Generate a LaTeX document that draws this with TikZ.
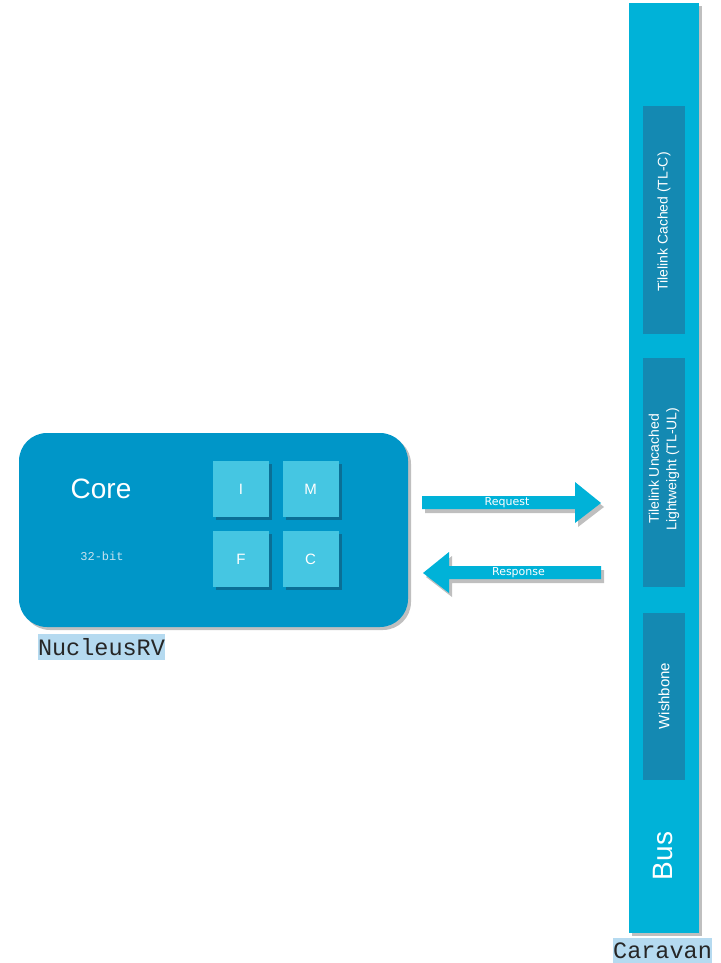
\documentclass[tikz,border=0pt]{standalone}
\usepackage{fontspec}
\setmainfont{Liberation Sans}
\setsansfont{Liberation Sans}
\setmonofont{Liberation Mono}
\newfontfamily\arrowfont{DejaVu Sans}
\usetikzlibrary{positioning,calc}
\definecolor{corebg}{HTML}{0096C8}
\definecolor{unitbg}{HTML}{45C6E2}
\definecolor{unitsh}{HTML}{0A6F96}
\definecolor{busbg}{HTML}{00B2D8}
\definecolor{protobg}{HTML}{1489B2}
\definecolor{shadowgray}{HTML}{BFBFBF}
\definecolor{tagbg}{HTML}{B5DAF0}
\definecolor{bitstext}{HTML}{C8E2EE}
\tikzset{
  x=1pt, y=-1pt,
  unitbox/.style={fill=unitbg, draw=none, minimum width=56pt, minimum height=56pt,
    inner sep=0pt, text=white, font=\fontsize{15}{17}\selectfont},
  protobox/.style={fill=protobg, draw=none, inner sep=0pt},
  protolabel/.style={rotate=90, text=white, font=\fontsize{14}{17.5}\selectfont, align=center},
  tag/.style={fill=tagbg, inner sep=0pt, minimum height=26pt,
    font=\ttfamily\fontsize{23.5}{25}\selectfont, text=black!85},
  arrowlabel/.style={text=white, font=\arrowfont\fontsize{11}{13}\selectfont},
}
\begin{document}
\begin{tikzpicture}
\useasboundingbox (0,0) rectangle (720,963);

% ---- Bus column ----
\fill[shadowgray] (632,6) rectangle (702,936);
\fill[busbg] (629,3) rectangle (699,933);
\node[protobox, minimum width=42pt, minimum height=228pt] (tlc) at (664,220) {};
\node[protolabel] at (664,222) {Tilelink Cached (TL-C)};
\node[protobox, minimum width=42pt, minimum height=229pt] (tlul) at (664,472.5) {};
\node[protolabel] at (664,469) {Tilelink Uncached\\Lightweight (TL-UL)};
\node[protobox, minimum width=42pt, minimum height=167pt] (wb) at (664,696.5) {};
\node[protolabel, font=\fontsize{15}{17}\selectfont] at (664,696) {Wishbone};
\node[rotate=90, text=white, font=\fontsize{28}{30}\selectfont] (bus) at (663,856) {Bus};
\node[tag] (caravan) at (662.5,950.5) {Caravan};

% ---- Core block ----
\fill[shadowgray, rounded corners=28pt] (22,436) rectangle (411,630);
\fill[corebg, rounded corners=28pt] (19,433) rectangle (408,627);
\node[text=white, font=\fontsize{28}{30}\selectfont] (core) at (101,489) {Core};
\node[text=bitstext, font=\ttfamily\fontsize{12}{14}\selectfont] (bits) at (102,556) {32-bit};
\foreach \n/\t/\cx/\cy in {i/I/241/489, m/M/310.5/489, f/F/241/559, c/C/310.5/559}{
  \fill[unitsh] (\cx-28+3,\cy-28+3) rectangle (\cx+28+3,\cy+28+3);
  \node[unitbox] (\n) at (\cx,\cy) {\t};
}
\node[tag] (nucleus) at (101.5,647) {NucleusRV};

% ---- Request / Response arrows ----
\begin{scope}[shift={(3,4)}]
  \fill[shadowgray] (422,496) -- (575,496) -- (575,482) -- (601,503) -- (575,523) -- (575,509) -- (422,509) -- cycle;
  \fill[shadowgray] (601,566) -- (449,566) -- (449,552) -- (423,573) -- (449,593) -- (449,579) -- (601,579) -- cycle;
\end{scope}
\fill[busbg] (422,496) -- (575,496) -- (575,482) -- (601,503) -- (575,523) -- (575,509) -- (422,509) -- cycle;
\fill[busbg] (601,566) -- (449,566) -- (449,552) -- (423,573) -- (449,593) -- (449,579) -- (601,579) -- cycle;
\coordinate (reqtail) at (422,503);
\coordinate (reqtip) at (601,503);
\coordinate (restail) at (601,573);
\coordinate (restip) at (423,573);
\node[arrowlabel] at (507,503) {Request};
\node[arrowlabel] at (518.5,572.5) {Response};
\end{tikzpicture}
\end{document}
